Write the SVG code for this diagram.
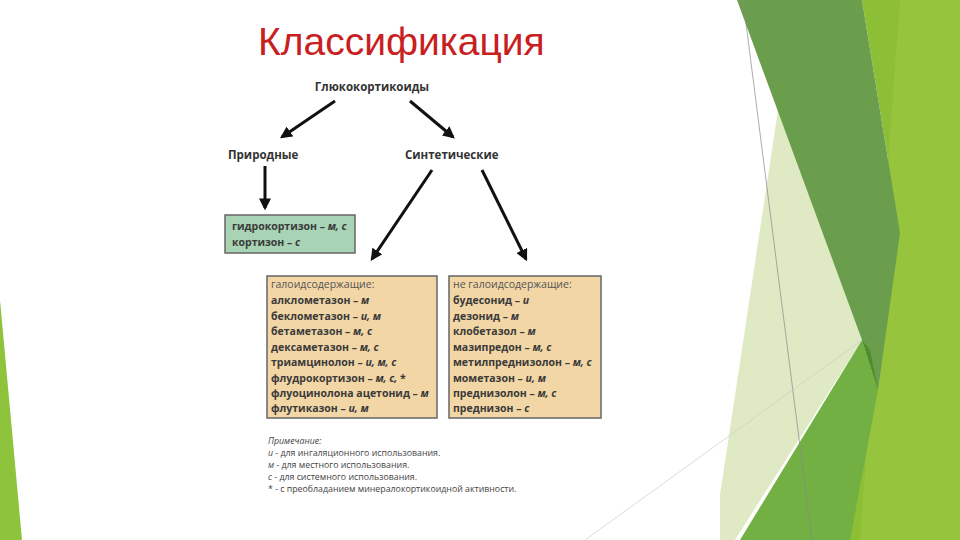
<svg xmlns="http://www.w3.org/2000/svg" width="960" height="540" viewBox="0 0 960 540">
<defs>
<style>
.t{font-family:"Open Sans","DejaVu Sans",sans-serif;font-size:10.5px;font-weight:bold;fill:#3a3a3a}
.i{font-style:italic}
.h{font-family:"Open Sans","DejaVu Sans",sans-serif;font-size:11.5px;font-weight:bold;fill:#333}
.n{font-family:"Open Sans","DejaVu Sans",sans-serif;font-size:8.8px;fill:#444}
.box{fill:#f2d6a6;stroke:#666;stroke-width:1.5}
.ar{stroke:#111;stroke-width:3;fill:none;marker-end:url(#a)}
</style>
<marker id="a" viewBox="0 0 10 10" refX="8" refY="5" markerWidth="4" markerHeight="4" orient="auto"><path d="M0,0L10,5L0,10z" fill="#111"/></marker>
</defs>
<rect width="960" height="540" fill="#fff"/>
<g id="decor">
<polygon points="0,300 22,540 0,540" fill="#8dc43c"/>
<polygon points="862,0 960,0 960,540 820,540 878,390 900,233" fill="#8dbf36"/>
<polygon points="900,0 960,0 960,540 860,540" fill="#96c43c"/>
<polygon points="778,110 862,340 735,540 720,540 720,495" fill="#dfeac4"/>
<polygon points="737,0 862,0 900,233 878,390 862,340" fill="#6b9e4c"/>
<polygon points="862,340 878,390 850,540 740,540" fill="#72b043"/>
<polygon points="862,340 878,390 870,350" fill="#4f8c2a"/>
<line x1="743" y1="0" x2="812" y2="540" stroke="#888" stroke-width="0.7"/>
<line x1="585" y1="540" x2="862" y2="340" stroke="#ccc" stroke-width="0.7"/>
</g>
<text x="258" y="55" font-family="Liberation Sans,sans-serif" font-size="39" fill="#c8201f">Классификация</text>
<g id="root"><text class="h" x="372" y="91" text-anchor="middle">Глюкокортикоиды</text></g>
<g id="nat"><text class="h" x="228" y="159">Природные</text></g>
<g id="syn"><text class="h" x="405" y="159">Синтетические</text></g>
<g id="natbox"><rect x="225" y="215" width="130" height="38" fill="#a8d3b4" stroke="#666" stroke-width="1.5"/>
<text class="t" x="232" y="230">гидрокортизон – <tspan class="i">м, с</tspan></text>
<text class="t" x="232" y="246">кортизон – <tspan class="i">с</tspan></text></g>
<g id="hal"><rect class="box" x="267" y="276" width="170" height="142"/>
<text class="t" x="271" y="288" style="font-weight:normal;fill:#555">галоидсодержащие:</text>
<text class="t" x="271" y="304">алклометазон – <tspan class="i">м</tspan></text>
<text class="t" x="271" y="320">беклометазон – <tspan class="i">и, м</tspan></text>
<text class="t" x="271" y="335">бетаметазон – <tspan class="i">м, с</tspan></text>
<text class="t" x="271" y="351">дексаметазон – <tspan class="i">м, с</tspan></text>
<text class="t" x="271" y="366">триамцинолон – <tspan class="i">и, м, с</tspan></text>
<text class="t" x="271" y="382">флудрокортизон – <tspan class="i">м, с, </tspan>*</text>
<text class="t" x="271" y="397">флуоцинолона ацетонид – <tspan class="i">м</tspan></text>
<text class="t" x="271" y="412">флутиказон – <tspan class="i">и, м</tspan></text></g>
<g id="nonhal"><rect class="box" x="449" y="276" width="152" height="142"/>
<text class="t" x="453" y="288" style="font-weight:normal;fill:#555">не галоидсодержащие:</text>
<text class="t" x="453" y="304">будесонид – <tspan class="i">и</tspan></text>
<text class="t" x="453" y="320">дезонид – <tspan class="i">м</tspan></text>
<text class="t" x="453" y="335">клобетазол – <tspan class="i">м</tspan></text>
<text class="t" x="453" y="351">мазипредон – <tspan class="i">м, с</tspan></text>
<text class="t" x="453" y="366">метилпреднизолон – <tspan class="i">м, с</tspan></text>
<text class="t" x="453" y="382">мометазон – <tspan class="i">и, м</tspan></text>
<text class="t" x="453" y="397">преднизолон – <tspan class="i">м, с</tspan></text>
<text class="t" x="453" y="412">преднизон – <tspan class="i">с</tspan></text></g>
<g id="note">
<text class="n i" x="268" y="444">Примечание:</text>
<text class="n" x="268" y="456"><tspan class="i">и</tspan> - для ингаляционного использования.</text>
<text class="n" x="268" y="468"><tspan class="i">м</tspan> - для местного использования.</text>
<text class="n" x="268" y="480"><tspan class="i">с</tspan> - для системного использования.</text>
<text class="n" x="268" y="492">* - с преобладанием минералокортикоидной активности.</text>
</g>
<g id="connectors">
<line class="ar" x1="335" y1="101" x2="282" y2="137"/>
<line class="ar" x1="410" y1="101" x2="453" y2="137"/>
<line class="ar" x1="265" y1="166" x2="265" y2="208"/>
<line class="ar" x1="432" y1="170" x2="372" y2="259"/>
<line class="ar" x1="482" y1="170" x2="526" y2="259"/>
</g>
</svg>
